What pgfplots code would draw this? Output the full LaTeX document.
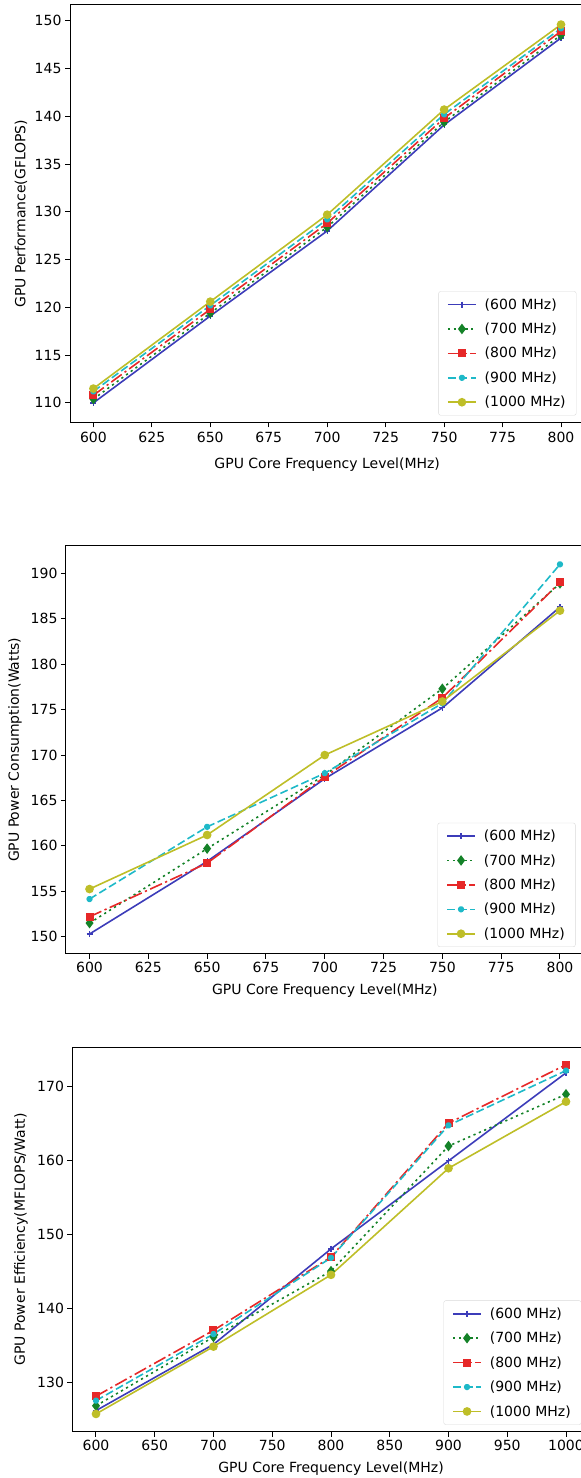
\documentclass[border=0pt]{standalone}
\usepackage{fontspec}
\setmainfont{DejaVu Sans}
\usepackage{pgfplots}
\pgfplotsset{compat=1.18}
\definecolor{c600}{RGB}{60,60,185}
\definecolor{c700}{RGB}{20,130,40}
\definecolor{c800}{RGB}{230,40,40}
\definecolor{c900}{RGB}{30,185,200}
\definecolor{c1000}{RGB}{190,190,40}
\pgfplotsset{
  myaxis/.style={
    scale only axis, anchor=south west,
    font=\fontsize{14}{16}\selectfont,
    /pgf/number format/assume math mode=true,
    /pgf/number format/1000 sep={},
    axis line style={line width=1pt, black},
    tick style={line width=1pt, black},
    tick align=outside, tick pos=left,
    major tick length=5pt,
    xlabel style={at={(axis description cs:0.5,0)}, anchor=center, yshift=-37pt},
    legend cell align=left,
    legend style={at={(axis description cs:1,0)}, anchor=south east, xshift=-8pt, yshift=7pt,
      draw=black!15, rounded corners=2pt, fill=white, inner xsep=8.5pt, inner ysep=5pt,
      row sep=8.3pt, font=\fontsize{14}{16}\selectfont,
      /tikz/every odd column/.append style={column sep=6pt}},
    legend image code/.code={\draw[mark repeat=2,mark phase=2,##1] plot coordinates {(0pt,0pt)(14pt,0pt)(28pt,0pt)};},
  },
  s600/.style={color=c600, line width=1.6pt, solid, mark=+, mark size=3pt, mark options={solid, line width=1.2pt}},
  s700/.style={color=c700, line width=1.6pt, dash pattern=on 2.2pt off 3.6pt, mark=diamond*, mark size=4pt, mark options={solid}},
  s800/.style={color=c800, line width=1.6pt, dash pattern=on 13pt off 3.5pt on 2.2pt off 3.5pt, mark=square*, mark size=3.2pt, mark options={solid}},
  s900/.style={color=c900, line width=1.6pt, dash pattern=on 8pt off 3.5pt, mark=10-pointed star, mark size=3pt, mark options={solid}},
  s1000/.style={color=c1000, line width=1.6pt, solid, mark=*, mark size=3.5pt, mark options={solid}},
}
\begin{document}
\begin{tikzpicture}
% ---------- Plot 1 ----------
\begin{axis}[myaxis, at={(70pt,1055.5pt)}, width=514.4pt, height=417.5pt,
  xmin=590, xmax=810, ymin=107.95, ymax=151.65,
  xtick={600,625,...,800}, ytick={110,115,...,150},
  xlabel={GPU Core Frequency Level(MHz)},
  xlabel style={yshift=-5pt},
  xticklabel style={yshift=-1.5pt},
  ylabel={GPU Performance(GFLOPS)},
  ylabel style={at={(axis description cs:-0.0953,0.5)}, anchor=center}]
\addplot[s600] coordinates {(600,110.0)(650,119.1)(700,128.0)(750,139.1)(800,148.2)};
\addplot[s700] coordinates {(600,110.4)(650,119.4)(700,128.4)(750,139.4)(800,148.5)};
\addplot[s800] coordinates {(600,110.8)(650,119.8)(700,128.8)(750,139.8)(800,148.9)};
\addplot[s900] coordinates {(600,111.2)(650,120.2)(700,129.2)(750,140.2)(800,149.2)};
\addplot[s1000] coordinates {(600,111.5)(650,120.6)(700,129.7)(750,140.7)(800,149.6)};
\legend{(600 MHz),(700 MHz),(800 MHz),(900 MHz),(1000 MHz)}
\end{axis}
% ---------- Plot 2 ----------
\begin{axis}[myaxis, at={(66pt,524pt)}, width=517.5pt, height=408.3pt,
  xmin=590, xmax=810, ymin=148.1, ymax=193.05,
  xtick={600,625,...,800}, ytick={150,155,...,190},
  xlabel={GPU Core Frequency Level(MHz)},
  ylabel={GPU Power Consumption(Watts)},
  ylabel style={at={(axis description cs:-0.0986,0.5)}, anchor=center}]
\addplot[s600] coordinates {(600,150.3)(650,158.3)(700,167.4)(750,175.2)(800,186.3)};
\addplot[s700] coordinates {(600,151.5)(650,159.7)(700,167.8)(750,177.3)(800,188.9)};
\addplot[s800] coordinates {(600,152.2)(650,158.1)(700,167.6)(750,176.3)(800,189.0)};
\addplot[s900] coordinates {(600,154.15)(650,162.1)(700,168.0)(750,175.7)(800,191.0)};
\addplot[s1000] coordinates {(600,155.25)(650,161.2)(700,170.0)(750,175.9)(800,185.9)};
\legend{(600 MHz),(700 MHz),(800 MHz),(900 MHz),(1000 MHz)}
\end{axis}
% ---------- Plot 3 ----------
\begin{axis}[myaxis, at={(72.5pt,46.3pt)}, width=517pt, height=384.4pt,
  xmin=580, xmax=1020, ymin=123.4, ymax=175.35,
  xtick={600,650,...,1000}, ytick={130,140,...,170},
  xlabel={GPU Core Frequency Level(MHz)},
  ylabel={GPU Power Efficiency(MFLOPS/Watt)},
  ylabel style={at={(axis description cs:-0.0996,0.5)}, anchor=center}]
\addplot[s600] coordinates {(600,126.25)(700,135.2)(800,148.1)(900,160.0)(1000,171.9)};
\addplot[s700] coordinates {(600,126.9)(700,136.2)(800,145.1)(900,162.0)(1000,169.0)};
\addplot[s800] coordinates {(600,128.2)(700,137.1)(800,147.0)(900,165.1)(1000,173.0)};
\addplot[s900] coordinates {(600,127.6)(700,136.6)(800,146.9)(900,164.8)(1000,172.2)};
\addplot[s1000] coordinates {(600,125.8)(700,134.9)(800,144.6)(900,159.0)(1000,168.0)};
\legend{(600 MHz),(700 MHz),(800 MHz),(900 MHz),(1000 MHz)}
\end{axis}
\pgfresetboundingbox
\useasboundingbox (0pt,0pt) rectangle (581pt,1478pt);
\end{tikzpicture}
\end{document}
